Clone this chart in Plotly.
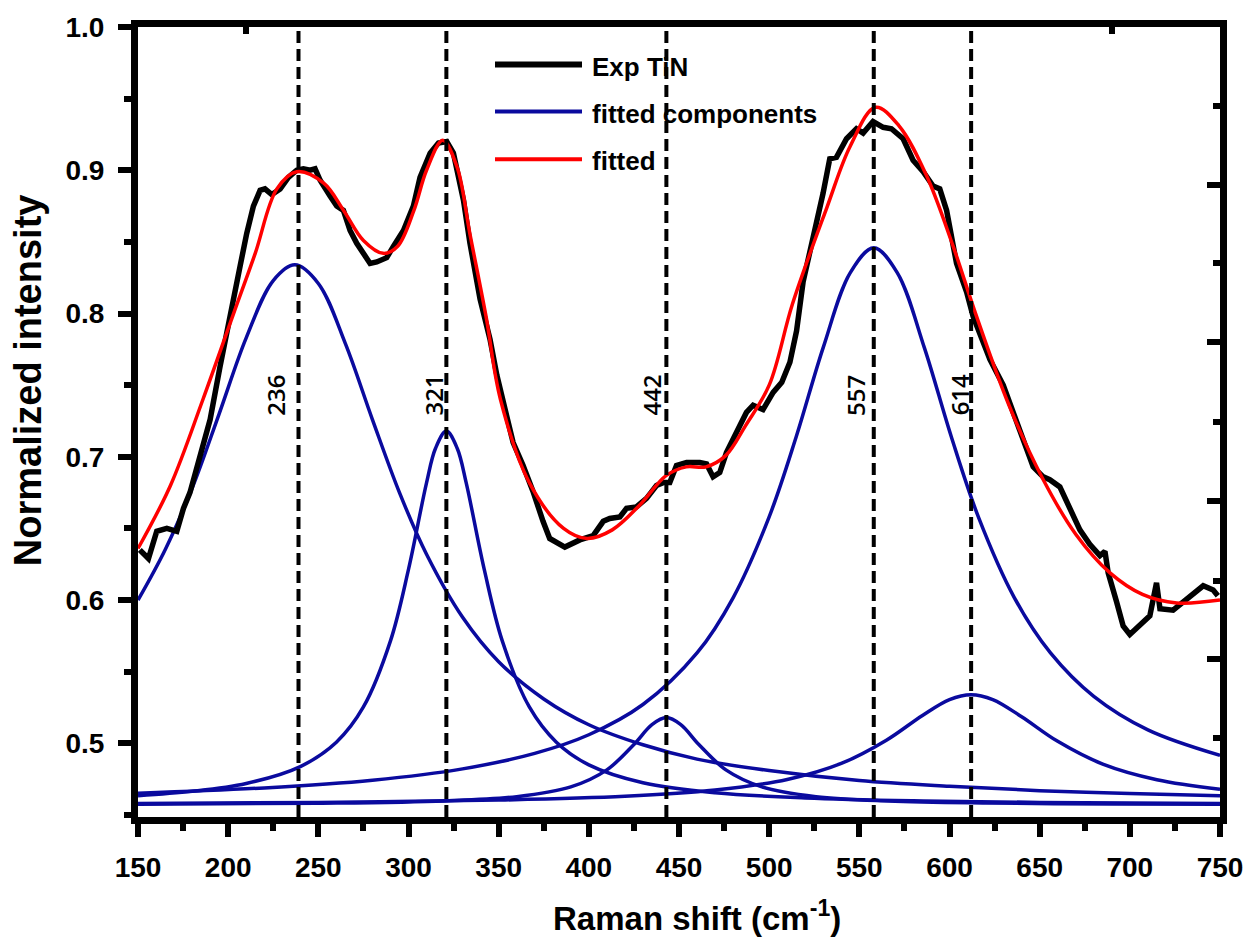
import plotly.graph_objects as go

# ---------------- data ----------------
exp_x = [151, 155.8, 160.4, 166, 171.5, 175.2, 178.8, 184.4, 190, 195.5, 201, 206.6, 210.3, 214, 217.7,
         220.4, 224.2, 228.8, 233.4, 238, 241.7, 245.4, 248.2, 251, 256.5, 260.2, 263.9, 267.6, 271.3,
         275, 278.7, 282.4, 287.9, 291.7, 297.2, 302.7, 306.4, 312, 316.6, 321.2, 324.9, 330.5, 334.1,
         339.7, 345.2, 349, 358, 363.5, 369, 374.6, 378.3, 386.7, 395, 402.4, 408, 411.6, 417.2, 420.9,
         426.4, 432, 437.5, 441.2, 444.9, 448.6, 454.2, 461.5, 465.3, 468.9, 472.6, 476.3, 481.9, 487.4,
         491.1, 496.6, 502.2, 507, 511.5, 515.2, 518.8, 524.4, 529.9, 533.6, 537.3, 542.9, 548.4, 552.1, 557.6,
         563.2, 567.8, 574.3, 579.8, 585.4, 590.9, 594.6, 598.4, 603.9, 609.5, 613.1, 616.8, 622.4, 629.8,
         635.3, 640.9, 646.4, 652, 655.6, 661.2, 666.7, 672.3, 677.8, 683.4, 686.2, 688, 692.6, 696.3,
         700, 705.6, 711.1, 714.8, 716.7, 724, 729.6, 735.1, 740.7, 746.2, 748.8]
exp_y = [0.635, 0.629, 0.648, 0.650, 0.648, 0.664, 0.675, 0.699, 0.726, 0.763, 0.800, 0.833, 0.856, 0.875, 0.886,
         0.887, 0.883, 0.887, 0.895, 0.900, 0.901, 0.900, 0.901, 0.893, 0.882, 0.875, 0.872, 0.858, 0.849,
         0.842, 0.835, 0.836, 0.839, 0.847, 0.858, 0.875, 0.895, 0.912, 0.919, 0.920, 0.912, 0.879, 0.849,
         0.810, 0.782, 0.757, 0.710, 0.694, 0.676, 0.655, 0.643, 0.637, 0.642, 0.645, 0.655, 0.657, 0.658, 0.664,
         0.665, 0.671, 0.680, 0.682, 0.682, 0.694, 0.696, 0.696, 0.695, 0.686, 0.689, 0.703, 0.717, 0.731,
         0.736, 0.733, 0.745, 0.752, 0.766, 0.788, 0.822, 0.852, 0.884, 0.908, 0.909, 0.922, 0.929, 0.926, 0.934,
         0.930, 0.929, 0.922, 0.907, 0.899, 0.889, 0.887, 0.872, 0.835, 0.815, 0.798, 0.785, 0.768, 0.750,
         0.731, 0.711, 0.693, 0.686, 0.684, 0.679, 0.664, 0.649, 0.639, 0.631, 0.634, 0.619, 0.599, 0.582,
         0.576, 0.582, 0.589, 0.612, 0.594, 0.593, 0.599, 0.604, 0.610, 0.607, 0.603]

fit_x = [150, 168, 186, 203, 215, 227, 238, 253, 264, 275, 286, 294, 303, 310, 319, 327, 334, 343, 351,
         367, 386, 399, 413, 428, 443, 454, 465, 476, 487, 500, 513, 532, 545, 559, 572, 587, 602, 615,
         633, 652, 670, 689, 707, 726, 750]
fit_y = [0.636, 0.680, 0.740, 0.800, 0.842, 0.887, 0.899, 0.891, 0.872, 0.851, 0.842, 0.847, 0.872, 0.900,
         0.921, 0.902, 0.856, 0.798, 0.740, 0.682, 0.650, 0.643, 0.649, 0.666, 0.687, 0.693, 0.693, 0.701,
         0.722, 0.750, 0.807, 0.874, 0.917, 0.944, 0.931, 0.897, 0.847, 0.798, 0.736, 0.684, 0.646, 0.619,
         0.604, 0.598, 0.600]

c1_x = [150, 165, 180, 195, 210, 225, 237, 250, 265, 280, 295, 310, 330, 350, 375, 400, 430, 460, 500,
        550, 600, 650, 700, 750]
c1_y = [0.600, 0.635, 0.678, 0.730, 0.783, 0.823, 0.834, 0.821, 0.779, 0.726, 0.675, 0.632, 0.588, 0.557,
        0.531, 0.513, 0.499, 0.489, 0.481, 0.474, 0.470, 0.467, 0.465, 0.4635]

c2_x = [150, 180, 210, 240, 260, 275, 290, 300, 310, 315, 321, 327, 332, 342, 352, 367, 382, 400, 430,
        470, 520, 580, 650, 750]
c2_y = [0.4635, 0.4665, 0.472, 0.4838, 0.5008, 0.5254, 0.5715, 0.6214, 0.6818, 0.706, 0.718, 0.706, 0.6818,
        0.6214, 0.5715, 0.5254, 0.5008, 0.485, 0.4725, 0.4655, 0.4619, 0.4599, 0.4588, 0.4581]

c3_x = [150, 250, 320, 360, 390, 410, 425, 435, 443, 451, 461, 476, 496, 526, 566, 620, 690, 750]
c3_y = [0.4575, 0.4582, 0.4598, 0.4628, 0.4696, 0.4815, 0.4992, 0.5131, 0.518, 0.5131, 0.4992, 0.4815,
        0.4696, 0.4628, 0.4598, 0.4584, 0.4577, 0.4575]

c4_x = [150, 220, 280, 330, 370, 400, 430, 460, 480, 500, 515, 530, 545, 558, 571, 586, 601, 616, 636,
        656, 680, 710, 750]
c4_y = [0.4652, 0.4689, 0.4743, 0.4822, 0.4930, 0.5060, 0.5271, 0.5631, 0.6016, 0.6581, 0.714, 0.7764,
        0.8286, 0.846, 0.8286, 0.7764, 0.714, 0.6581, 0.6016, 0.5631, 0.5328, 0.5094, 0.4916]

c5_x = [150, 250, 350, 420, 470, 510, 540, 565, 585, 600, 612, 624, 640, 660, 685, 715, 750]
c5_y = [0.4581, 0.4588, 0.4604, 0.4630, 0.4674, 0.4748, 0.4860, 0.5022, 0.5195, 0.5306, 0.534, 0.5306,
        0.5186, 0.5014, 0.4855, 0.4746, 0.4679]

peak_pos = [239, 321, 443, 558, 612]
peak_labels = ["236", "321", "442", "557", "614"]
label_y = 0.743

x_ticks = [150, 200, 250, 300, 350, 400, 450, 500, 550, 600, 650, 700, 750]
y_ticks = [0.5, 0.6, 0.7, 0.8, 0.9, 1.0]
y_ticklabels = ["0.5", "0.6", "0.7", "0.8", "0.9", "1.0"]
top_minor = [210, 690]
right_major = [0.890, 0.780, 0.669, 0.559]
right_minor = [0.945, 0.835, 0.724, 0.613, 0.504]

legend_names = ["Exp TiN", "fitted components", "fitted"]

# ---------------- styling ----------------
BLUE = "#0A0A9E"
RED = "#FF0000"
FONT = "Liberation Sans, Arial, sans-serif"
W, H = 1258, 947
ML, MR, MT, MB = 138, 38, 23, 130
PW, PH = W - ML - MR, H - MT - MB
X_RANGE = [150, 750]
Y_RANGE = [0.4486, 1.0]


def px2paper_x(px):
    return (px - ML) / PW


def px2paper_y(py):
    return (H - MB - py) / PH


fig = go.Figure()

for cx, cy in [(c1_x, c1_y), (c2_x, c2_y), (c3_x, c3_y), (c4_x, c4_y), (c5_x, c5_y)]:
    fig.add_trace(go.Scatter(x=cx, y=cy, mode="lines", line=dict(color=BLUE, width=3.5, shape="spline"),
                             showlegend=False, hoverinfo="skip"))

fig.add_trace(go.Scatter(x=exp_x, y=exp_y, mode="lines", line=dict(color="black", width=5.5),
                         showlegend=False, hoverinfo="skip"))
fig.add_trace(go.Scatter(x=fit_x, y=fit_y, mode="lines", line=dict(color=RED, width=3.5, shape="spline"),
                         showlegend=False, hoverinfo="skip"))

# invisible trace for the mirrored top/right axes
fig.add_trace(go.Scatter(x=[None], y=[None], xaxis="x2", yaxis="y2", showlegend=False, hoverinfo="skip"))

# dashed peak markers
for p in peak_pos:
    fig.add_shape(type="line", xref="x", yref="paper", x0=p, x1=p, y0=0, y1=1,
                  line=dict(color="black", width=4, dash="12px,6px"))

label_shift = [-23, -13, -15, -19, -12]
for p, t, s in zip(peak_pos, peak_labels, label_shift):
    fig.add_annotation(x=p, y=label_y, xref="x", yref="y", text=t, textangle=-90, showarrow=False,
                       xshift=s, font=dict(family="Open Sans, sans-serif", size=24, color="black", weight=600))

# custom legend
leg_rows_py = [60.7, 108, 156]
leg_colors = ["black", BLUE, RED]
leg_widths = [6, 4, 4]
for name, py, col, lw in zip(legend_names, leg_rows_py, leg_colors, leg_widths):
    fig.add_shape(type="line", xref="paper", yref="paper", x0=px2paper_x(495), x1=px2paper_x(582),
                  y0=px2paper_y(py), y1=px2paper_y(py), line=dict(color=col, width=lw))
    fig.add_annotation(xref="paper", yref="paper", x=px2paper_x(590), y=px2paper_y(py + 2), text=name,
                       xanchor="left", yanchor="middle", showarrow=False,
                       font=dict(family=FONT, size=26, color="black", weight="bold"))

# axis titles
fig.add_annotation(xref="paper", yref="paper", x=px2paper_x(697), y=px2paper_y(917),
                   text="Raman shift (cm<sup>-1</sup>)", showarrow=False, xanchor="center", yanchor="middle",
                   font=dict(family=FONT, size=33, color="black", weight="bold"))
fig.add_annotation(xref="paper", yref="paper", x=px2paper_x(28), y=px2paper_y(378),
                   text="Normalized intensity", textangle=-90, showarrow=False, xanchor="center",
                   yanchor="middle", font=dict(family=FONT, size=38, color="black", weight="bold"))

tickfont = dict(family=FONT, size=28, color="black", weight="bold")
fig.update_layout(
    width=W, height=H, margin=dict(l=ML, r=MR, t=MT, b=MB, pad=0),
    paper_bgcolor="white", plot_bgcolor="white", showlegend=False,
    xaxis=dict(range=X_RANGE, tickvals=x_ticks, ticks="outside", ticklen=13, tickwidth=6, tickcolor="black",
               showline=True, linewidth=7, linecolor="black", showgrid=False, zeroline=False,
               tickfont=tickfont, ticklabelstandoff=6,
               minor=dict(dtick=25, tick0=150, ticks="outside", ticklen=7, tickwidth=6, tickcolor="black",
                          showgrid=False)),
    yaxis=dict(range=Y_RANGE, tickvals=y_ticks, ticktext=y_ticklabels, ticks="outside", ticklen=13,
               tickwidth=6, tickcolor="black", showline=True, linewidth=7, linecolor="black",
               showgrid=False, zeroline=False, tickfont=tickfont, ticklabelstandoff=8,
               minor=dict(dtick=0.05, tick0=0.5, ticks="outside", ticklen=7, tickwidth=6, tickcolor="black",
                          showgrid=False)),
    xaxis2=dict(range=X_RANGE, overlaying="x", side="top", anchor="y", showticklabels=False,
                tickvals=[], ticks="inside", showline=True, linewidth=7, linecolor="black",
                showgrid=False, zeroline=False,
                minor=dict(tickvals=top_minor, ticks="inside", ticklen=7, tickwidth=6, tickcolor="black",
                           showgrid=False)),
    yaxis2=dict(range=Y_RANGE, overlaying="y", side="right", anchor="x", showticklabels=False,
                tickvals=right_major, ticks="inside", ticklen=13, tickwidth=6, tickcolor="black",
                showline=True, linewidth=7, linecolor="black", showgrid=False, zeroline=False,
                minor=dict(tickvals=right_minor, ticks="inside", ticklen=7, tickwidth=6, tickcolor="black",
                           showgrid=False)),
)

fig.write_html("out.html")
